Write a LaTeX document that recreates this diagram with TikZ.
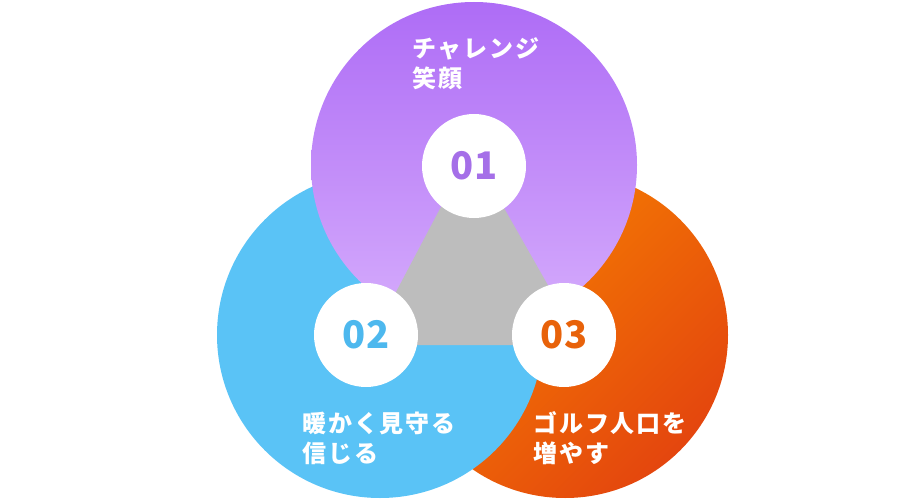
\documentclass[tikz,border=0pt]{standalone}
\usepackage{fontspec}
\newfontfamily\jp{Noto Sans CJK JP}[LetterSpace=8]
\newfontfamily\jpnum{Noto Sans CJK JP}
\definecolor{purpTop}{HTML}{AE6CF6}
\definecolor{purpBot}{HTML}{D6ADFC}
\definecolor{blueC}{HTML}{5AC3F6}
\definecolor{orA}{HTML}{F78400}
\definecolor{orB}{HTML}{E4460E}
\definecolor{grayC}{HTML}{BDBDBD}
\definecolor{num1}{HTML}{A56FE8}
\definecolor{num2}{HTML}{4DB8EE}
\definecolor{num3}{HTML}{E8620A}
\tikzset{
  bigcirc/.style={circle, minimum size=326pt, inner sep=0pt, draw=none},
  numcirc/.style={circle, fill=white, minimum size=104pt, inner sep=0pt, font=\jpnum\bfseries\fontsize{38}{40}\selectfont},
  lbl/.style={anchor=base west, inner sep=0pt, text=white, align=left, font=\jp\bfseries\fontsize{24}{30}\selectfont}
}
\begin{document}
\begin{tikzpicture}[x=1pt,y=-1pt]
\useasboundingbox (0,0) rectangle (916,500);
\node[bigcirc, top color=orA, bottom color=orB, shading angle=45] (cO) at (565,335) {};
\node[bigcirc, fill=blueC] (cB) at (380,335) {};
\node[bigcirc, top color=purpTop, bottom color=purpBot] (cP) at (474,165) {};
\coordinate (t1) at (471,150);
\coordinate (t2) at (368,345);
\coordinate (t3) at (582,345);
\fill[grayC] (t1) -- (t2) -- (t3) -- cycle;
\node[numcirc, text=num1] (n1) at (474,166) {01};
\node[numcirc, text=num2] (n2) at (366,335) {02};
\node[numcirc, text=num3] (n3) at (564,335) {03};
\node[lbl] (l1) at (412,88) {チャレンジ\\笑顔};
\node[lbl] (l2) at (302,462) {暖かく見守る\\信じる};
\node[lbl] (l3) at (533,462) {ゴルフ人口を\\増やす};
\end{tikzpicture}
\end{document}
